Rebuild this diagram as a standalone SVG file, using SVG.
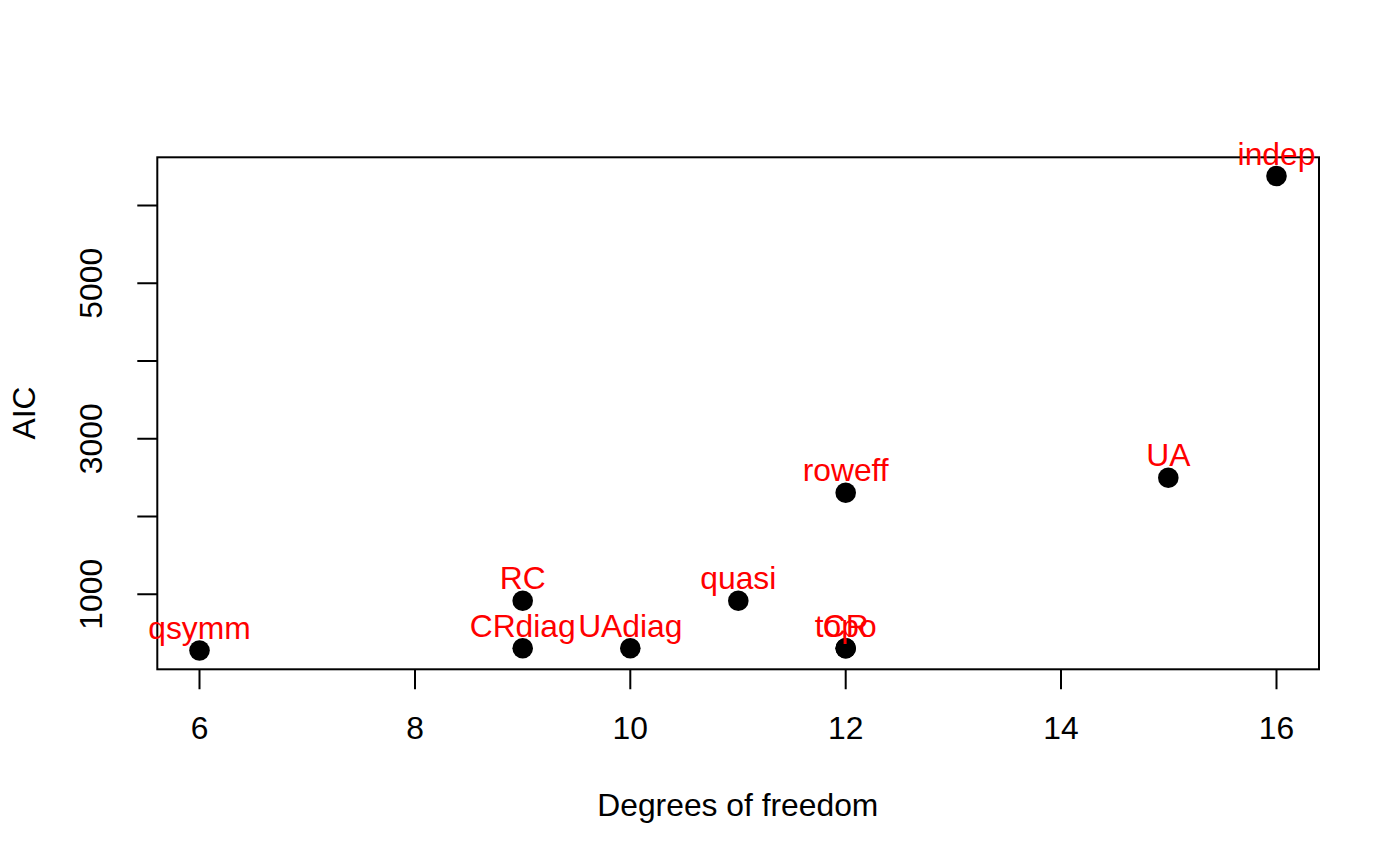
<svg xmlns="http://www.w3.org/2000/svg" width="1400" height="866" viewBox="0 0 1400 866">
<style>
.ax{stroke:#000;stroke-width:2;fill:none}
.tl{font-family:"Liberation Sans",Arial,sans-serif;font-size:31.8px;fill:#000}
.lb{font-family:"Liberation Sans",Arial,sans-serif;font-size:31.8px;fill:#ff0000;text-anchor:middle}
.pt{fill:#000}
</style>
<rect width="1400" height="866" fill="#fff"/>
<g id="axes">
<rect class="ax" x="157.3" y="157.3" width="1161.7" height="512"/>
<path class="ax" d="M199.5 669.3V689.3M415 669.3V689.3M630.3 669.3V689.3M845.7 669.3V689.3M1061 669.3V689.3M1276.5 669.3V689.3"/>
<path class="ax" d="M157.3 205.6H137.3M157.3 283.3H137.3M157.3 361.1H137.3M157.3 438.8H137.3M157.3 516.6H137.3M157.3 594.3H137.3"/>
<g class="tl" text-anchor="middle">
<text x="199.5" y="739">6</text>
<text x="415" y="739">8</text>
<text x="630.3" y="739">10</text>
<text x="845.7" y="739">12</text>
<text x="1061" y="739">14</text>
<text x="1276.5" y="739">16</text>
<text transform="translate(101.7 283.3) rotate(-90)">5000</text>
<text transform="translate(101.7 438.8) rotate(-90)">3000</text>
<text transform="translate(101.7 594.3) rotate(-90)">1000</text>
<text x="737.8" y="816">Degrees of freedom</text>
<text transform="translate(35 413) rotate(-90)">AIC</text>
</g>
</g>
<g id="points">
<circle class="pt" cx="199.5" cy="650.5" r="10.3"/>
<circle class="pt" cx="522.7" cy="600.7" r="10.3"/>
<circle class="pt" cx="522.7" cy="648.3" r="10.3"/>
<circle class="pt" cx="630.3" cy="648.3" r="10.3"/>
<circle class="pt" cx="738.3" cy="600.7" r="10.3"/>
<circle class="pt" cx="845.7" cy="492.7" r="10.3"/>
<circle class="pt" cx="845.7" cy="648.3" r="10.3"/>
<circle class="pt" cx="845.7" cy="648.3" r="10.3"/>
<circle class="pt" cx="1168.3" cy="477.7" r="10.3"/>
<circle class="pt" cx="1276.5" cy="176" r="10.3"/>
</g>
<g id="labels">
<text class="lb" x="199.5" y="639">qsymm</text>
<text class="lb" x="522.7" y="589">RC</text>
<text class="lb" x="522.7" y="636.5">CRdiag</text>
<text class="lb" x="630.3" y="636.5">UAdiag</text>
<text class="lb" x="738.3" y="589">quasi</text>
<text class="lb" x="845.7" y="481">roweff</text>
<text class="lb" x="845.7" y="636.5">topo</text>
<text class="lb" x="845.7" y="636.5">CR</text>
<text class="lb" x="1168.3" y="466">UA</text>
<text class="lb" x="1276.5" y="164.5">indep</text>
</g>
</svg>
